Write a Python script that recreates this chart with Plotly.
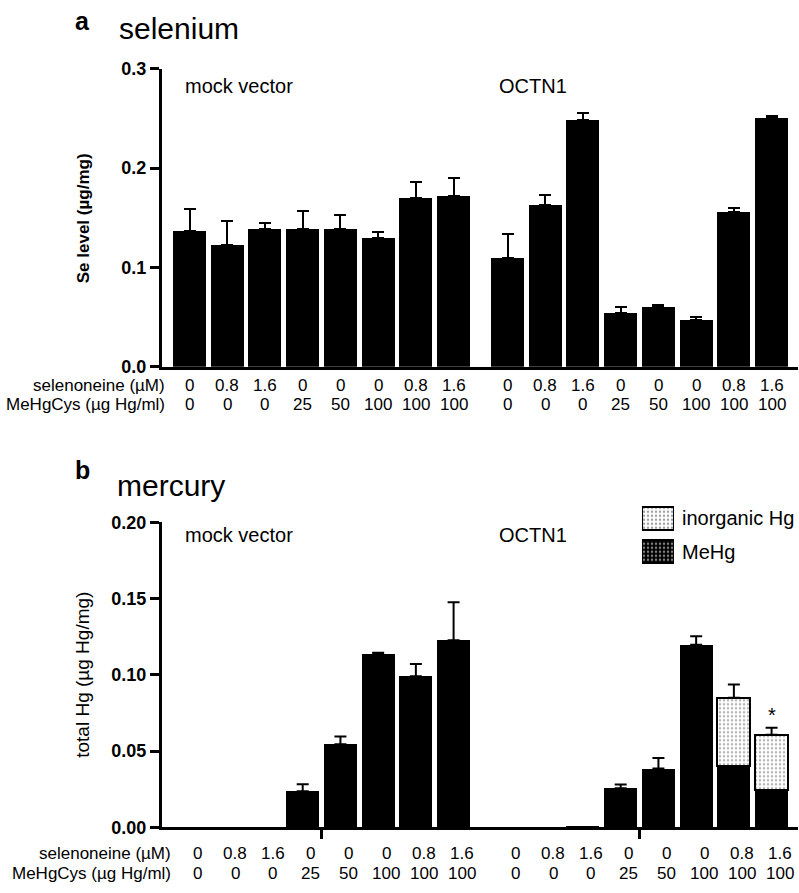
import plotly.graph_objects as go

# ---------------- data ----------------
groups = ["mock vector", "OCTN1"]
selenoneine_labels = ["0", "0.8", "1.6", "0", "0", "0", "0.8", "1.6"]
mehgcys_labels = ["0", "0", "0", "25", "50", "100", "100", "100"]

se_mock = [0.137, 0.123, 0.139, 0.139, 0.139, 0.130, 0.170, 0.172]
se_mock_err = [0.022, 0.024, 0.006, 0.018, 0.014, 0.006, 0.016, 0.018]
se_octn1 = [0.109, 0.163, 0.248, 0.054, 0.060, 0.0475, 0.156, 0.250]
se_octn1_err = [0.025, 0.010, 0.007, 0.006, 0.002, 0.003, 0.004, 0.002]

hg_mock_mehg = [0, 0, 0, 0.0237, 0.0545, 0.1135, 0.099, 0.1226]
hg_mock_inorg = [0, 0, 0, 0, 0, 0, 0, 0]
hg_mock_err = [0, 0, 0, 0.0045, 0.005, 0.001, 0.008, 0.025]
hg_octn1_mehg = [0, 0, 0.0007, 0.0256, 0.0385, 0.1197, 0.040, 0.0246]
hg_octn1_inorg = [0, 0, 0, 0, 0, 0, 0.045, 0.036]
hg_octn1_err = [0, 0, 0, 0.0024, 0.007, 0.0056, 0.0086, 0.0047]
significant_octn1 = [False, False, False, False, False, False, False, True]

legend_names = ["inorganic Hg", "MeHg"]

# ---------------- layout helpers ----------------
W, H = 799, 893
GAP = 0.43
n = len(selenoneine_labels)
x_mock = [i for i in range(n)]
x_octn = [n + GAP + i for i in range(n)]
x_all = x_mock + x_octn
XR = [-0.73, x_octn[-1] + 0.70]
BW = 0.875
FONT = "Liberation Sans, Arial, sans-serif"

INORG_MARKER = dict(color="white", line=dict(color="black", width=2),
                    pattern=dict(shape=".", fgcolor="#6a6a6a", bgcolor="white", size=4, solidity=0.3))


def py(pix):
    return 1 - pix / H


def px(pix):
    return pix / W


def nz(vals):
    return [v if v > 0 else None for v in vals]


fig = go.Figure()

# Panel a bars
fig.add_trace(go.Bar(
    x=x_all, y=se_mock + se_octn1, width=BW,
    marker=dict(color="black", line=dict(width=0)),
    error_y=dict(type="data", symmetric=False, array=se_mock_err + se_octn1_err,
                 arrayminus=[0] * (2 * n), color="black", thickness=2, width=6),
    xaxis="x", yaxis="y", showlegend=False))

# Panel b stacked bars
mehg = hg_mock_mehg + hg_octn1_mehg
inorg = hg_mock_inorg + hg_octn1_inorg
fig.add_trace(go.Bar(
    x=x_all, y=nz(mehg), width=BW, name=legend_names[1],
    marker=dict(color="black", line=dict(width=0)),
    xaxis="x2", yaxis="y2", showlegend=False))
fig.add_trace(go.Bar(
    x=x_all, y=nz(inorg), width=BW, name=legend_names[0],
    marker=INORG_MARKER, xaxis="x2", yaxis="y2", showlegend=False))

tot = [a + b for a, b in zip(mehg, inorg)]
errs = hg_mock_err + hg_octn1_err
ex = [x for x, e in zip(x_all, errs) if e > 0]
ey = [t for t, e in zip(tot, errs) if e > 0]
ee = [e for e in errs if e > 0]
fig.add_trace(go.Scatter(
    x=ex, y=ey, mode="markers", marker=dict(size=1, opacity=0),
    error_y=dict(type="data", symmetric=False, array=ee, arrayminus=[0] * len(ee),
                 color="black", thickness=2, width=6),
    xaxis="x2", yaxis="y2", showlegend=False, hoverinfo="skip"))

# legend swatches (drawn as a tiny horizontal bar chart on its own axes)
fig.add_trace(go.Bar(
    y=legend_names, x=[1, 1], orientation="h", width=0.7,
    marker=dict(color=["white", "black"], line=dict(color="black", width=2),
                pattern=dict(shape=".", fgcolor=["#6a6a6a", "#1c1c1c"],
                             bgcolor=["white", "black"], size=4, solidity=0.3)),
    xaxis="x3", yaxis="y3", showlegend=False, hoverinfo="skip"))

axis_common = dict(showline=True, linewidth=3, linecolor="black", showgrid=False,
                   zeroline=False, mirror=False)
fig.update_layout(
    width=W, height=H, margin=dict(l=0, r=0, t=0, b=0),
    plot_bgcolor="rgba(0,0,0,0)", paper_bgcolor="white", barmode="stack",
    font=dict(family=FONT, color="black"), showlegend=False,
    xaxis=dict(domain=[px(162), px(798)], range=XR, anchor="y", showticklabels=False,
               ticks="", **axis_common),
    yaxis=dict(domain=[py(365), py(60)], range=[0, 0.3], dtick=0.1, tickformat=".1f",
               ticks="outside", ticklen=9, tickwidth=3, tickcolor="black",
               tickfont=dict(size=18, weight="bold", family=FONT), anchor="x", **axis_common),
    xaxis2=dict(domain=[px(162), px(798)], range=XR, anchor="y2", showticklabels=False,
                tickvals=[x_mock[3] + 0.5, x_octn[3] + 0.5], ticks="outside", ticklen=9,
                tickwidth=3, tickcolor="black", **axis_common),
    yaxis2=dict(domain=[py(836), py(524)], range=[0, 0.2], dtick=0.05, tickformat=".2f",
                ticks="outside", ticklen=9, tickwidth=3, tickcolor="black",
                tickfont=dict(size=18, weight="bold", family=FONT), anchor="x2", **axis_common),
    xaxis3=dict(domain=[px(642), px(674)], range=[0, 1], anchor="y3", visible=False),
    yaxis3=dict(domain=[py(571), py(503)], anchor="x3", visible=False, type="category",
                categoryorder="array", categoryarray=legend_names[::-1]),
)

ann = []
# titles
ann.append(dict(text="<b>a</b>", x=px(82), y=py(11), font=dict(size=25)))
ann.append(dict(text="selenium", x=px(117), y=py(19), xanchor="left", font=dict(size=30)))
ann.append(dict(text="<b>b</b>", x=px(82), y=py(471), font=dict(size=25)))
ann.append(dict(text="mercury", x=px(115), y=py(486), xanchor="left", font=dict(size=30)))
# y titles
ann.append(dict(text="<b>Se level (µg/mg)</b>", x=px(83), y=py(213), textangle=-90, font=dict(size=17)))
ann.append(dict(text="total Hg (µg Hg/mg)", x=px(83), y=py(680), textangle=-90, font=dict(size=19)))
# group labels
for ypix in (78, 537):
    ann.append(dict(text=groups[0], x=px(183), y=py(ypix), xanchor="left", font=dict(size=20)))
    ann.append(dict(text=groups[1], x=px(497), y=py(ypix), xanchor="left", font=dict(size=20)))
# legend labels
for name, ypix in zip(legend_names, (520, 554)):
    ann.append(dict(text=name, x=px(680), y=py(ypix), xanchor="left", font=dict(size=20)))

# condition rows
for (xa, r1, r2, lab_right, shift) in [("x", 384, 404, 167, 0), ("x2", 863, 883, 173, 8)]:
    ann.append(dict(text="selenoneine (µM)", x=px(lab_right), y=py(r1), xanchor="right", font=dict(size=17)))
    ann.append(dict(text="MeHgCys (µg Hg/ml)", x=px(lab_right), y=py(r2), xanchor="right", font=dict(size=17)))
    for i, xv in enumerate(x_all):
        ann.append(dict(text=selenoneine_labels[i % n], x=xv, xref=xa, y=py(r1), xshift=shift,
                        font=dict(size=17)))
        ann.append(dict(text=mehgcys_labels[i % n], x=xv, xref=xa, y=py(r2), xshift=shift,
                        font=dict(size=17)))

# significance star
for i, s in enumerate(significant_octn1):
    if s:
        ann.append(dict(text="*", x=x_octn[i], xref="x2", yref="y2",
                        y=hg_octn1_mehg[i] + hg_octn1_inorg[i] + hg_octn1_err[i],
                        yanchor="bottom", font=dict(size=20)))

for a in ann:
    a.setdefault("xref", "paper")
    a.setdefault("yref", "paper")
    a.setdefault("showarrow", False)
    a.setdefault("yanchor", "middle")
    a.setdefault("xanchor", "center")
    a["font"].setdefault("family", FONT)
    a["font"].setdefault("color", "black")
fig.update_layout(annotations=ann)

fig.write_html("out.html", config={"displayModeBar": False, "staticPlot": True},
               post_script="document.body.style.margin='0';document.body.style.overflow='hidden';")
